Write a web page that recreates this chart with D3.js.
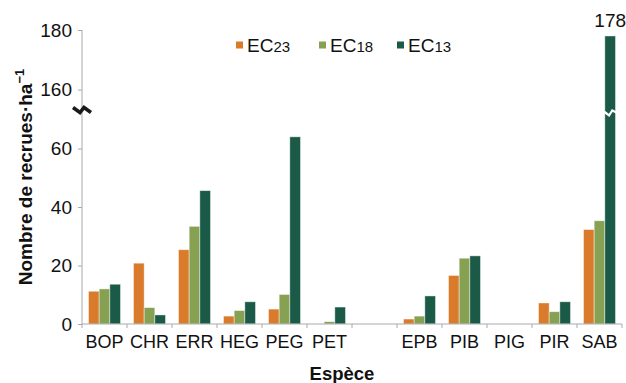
<!DOCTYPE html>
<html>
<head>
<meta charset="utf-8">
<script src="https://cdn.jsdelivr.net/npm/d3@7"></script>
<style>
  html, body { margin: 0; padding: 0; background: #fff; }
  svg { display: block; font-family: "Liberation Sans", Arial, sans-serif; }
</style>
</head>
<body>
<svg id="chart" width="626" height="383"></svg>
<script>
// Species (blank slot separates the two groups)
const categories = ["BOP", "CHR", "ERR", "HEG", "PEG", "PET", "", "EPB", "PIB", "PIG", "PIR", "SAB"];
const seriesNames = ["EC23", "EC18", "EC13"];
const seriesColors = ["#d97b2a", "#86a152", "#1b5a46"];
const ec23 = [11.2, 20.8, 25.4, 2.7, 5.1, 0, 0, 1.7, 16.6, 0, 7.2, 32.3];
const ec18 = [12.0, 5.6, 33.4, 4.6, 10.1, 0.8, 0, 2.7, 22.5, 0, 4.2, 35.3];
const ec13 = [13.6, 3.1, 45.6, 7.6, 64.0, 5.8, 0, 9.6, 23.3, 0, 7.6, 178];
const yTicks = [0, 20, 40, 60, 160, 180];

const series = [ec23, ec18, ec13];
const svg = d3.select("#chart");

const plotL = 82, plotR = 622, plotB = 324, plotT = 30;
const axisColor = "#a6a9ac";

// Category bands and the three bars inside each band
const x = d3.scaleBand().domain(d3.range(categories.length)).range([plotL, plotR]);
const xs = d3.scaleBand().domain(d3.range(series.length)).range([6.5, x.bandwidth() - 6.5]);

// Broken value axis: 0–73 below the break, 153–180 above it
const y = d3.scaleLinear().domain([0, 73, 153, 180]).range([plotB, 110.5, 110.5, plotT]);
const breakY = y(73);

// Bars
series.forEach((vals, s) => {
  svg.append("g")
    .selectAll("rect")
    .data(vals)
    .join("rect")
    .attr("x", (d, i) => x(i) + xs(s))
    .attr("width", xs.bandwidth())
    .attr("y", d => y(d))
    .attr("height", d => plotB - y(d))
    .attr("fill", seriesColors[s])
    .attr("stroke", "rgba(255,255,255,0.55)")
    .attr("stroke-width", 0.8);
});

// Break marker across the tall SAB bar
const sabI = categories.indexOf("SAB");
const bx0 = x(sabI) + xs(2), bw = xs.bandwidth();
svg.append("path")
  .attr("d", `M${bx0 - 1},${breakY + 1} L${bx0 + bw * 0.4},${breakY + 5} L${bx0 + bw * 0.7},${breakY} L${bx0 + bw + 1},${breakY + 2}`)
  .attr("fill", "none")
  .attr("stroke", "#fff")
  .attr("stroke-width", 2.2);

// Value label above SAB EC13
svg.append("text")
  .attr("x", x(sabI) + xs(2) + bw / 2)
  .attr("y", y(ec13[sabI]) - 9)
  .attr("text-anchor", "middle")
  .attr("font-size", 19)
  .attr("fill", "#111")
  .text(ec13[sabI]);

// Y axis
const yAxis = svg.append("g").attr("transform", `translate(${plotL},0)`)
  .call(d3.axisLeft(y).tickValues(yTicks).tickSize(4).tickPadding(6).tickFormat(d3.format("d")));
yAxis.select(".domain").attr("stroke", axisColor).attr("d", `M0,${plotB}V${plotT}`);
yAxis.selectAll(".tick line").attr("stroke", axisColor);
yAxis.selectAll(".tick text").attr("font-size", 19).attr("fill", "#111")
  .attr("font-family", "Liberation Sans, Arial, sans-serif");

// Axis break symbol
svg.append("path")
  .attr("d", `M${plotL - 9},${breakY - 3} L${plotL - 2},${breakY + 2} L${plotL + 2},${breakY - 3} L${plotL + 9},${breakY + 2}`)
  .attr("fill", "none")
  .attr("stroke", "#1a1a1a")
  .attr("stroke-width", 3.6)
  .attr("stroke-linejoin", "miter");

// X axis: baseline, boundary ticks, category labels
const xg = svg.append("g");
xg.append("line")
  .attr("x1", plotL).attr("x2", plotR).attr("y1", plotB).attr("y2", plotB)
  .attr("stroke", axisColor);
xg.selectAll("line.tk")
  .data(d3.range(categories.length + 1))
  .join("line")
  .attr("class", "tk")
  .attr("x1", i => plotL + i * x.step()).attr("x2", i => plotL + i * x.step())
  .attr("y1", plotB).attr("y2", plotB + 4)
  .attr("stroke", axisColor);
xg.selectAll("text")
  .data(categories)
  .join("text")
  .attr("x", (d, i) => x(i) + x.bandwidth() / 2)
  .attr("y", 348)
  .attr("text-anchor", "middle")
  .attr("font-size", 18)
  .attr("fill", "#111")
  .text(d => d);

// Axis titles
svg.append("text")
  .attr("x", 342).attr("y", 380)
  .attr("text-anchor", "middle")
  .attr("font-size", 18.5).attr("font-weight", "bold").attr("fill", "#111")
  .text("Espèce");

const yt = svg.append("text")
  .attr("transform", `translate(32,177) rotate(-90)`)
  .attr("text-anchor", "middle")
  .attr("font-size", 19).attr("font-weight", "bold").attr("fill", "#111");
yt.append("tspan").text("Nombre de recrues·ha");
yt.append("tspan").attr("dy", -8).attr("font-size", 13).text("−1");

// Legend
const legendX = [236, 319, 397];
const lg = svg.append("g");
seriesNames.forEach((name, s) => {
  lg.append("rect")
    .attr("x", legendX[s]).attr("y", 41.5)
    .attr("width", 7).attr("height", 7)
    .attr("fill", seriesColors[s]);
  const t = lg.append("text")
    .attr("x", legendX[s] + 11).attr("y", 52)
    .attr("font-size", 19).attr("fill", "#111");
  t.append("tspan").text(name.slice(0, 2));
  t.append("tspan").attr("font-size", 15).text(name.slice(2));
});
</script>
</body>
</html>
